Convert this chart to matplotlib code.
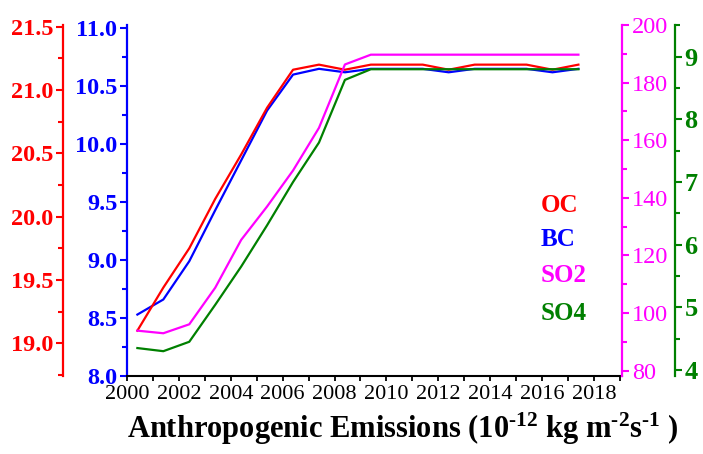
import matplotlib
matplotlib.use("Agg")
import matplotlib.pyplot as plt
from matplotlib.ticker import MultipleLocator, FormatStrFormatter

plt.rcParams['font.family'] = ['Liberation Serif', 'DejaVu Serif']
plt.rcParams['mathtext.fontset'] = 'custom'
plt.rcParams['mathtext.rm'] = 'Liberation Serif:bold'
plt.rcParams['mathtext.bf'] = 'Liberation Serif:bold'
plt.rcParams['mathtext.it'] = 'Liberation Serif:bold'

# ---- data ----
years = [2000.4, 2001.4, 2002.4, 2003.4, 2004.4, 2005.4, 2006.4, 2007.4, 2008.4,
         2009.4, 2010.4, 2011.4, 2012.4, 2013.4, 2014.4, 2015.4, 2016.4, 2017.4]
oc = [19.10, 19.44, 19.75, 20.14, 20.49, 20.86, 21.16, 21.20, 21.16,
      21.20, 21.20, 21.20, 21.16, 21.20, 21.20, 21.20, 21.16, 21.20]
bc = [8.53, 8.66, 8.99, 9.43, 9.86, 10.29, 10.60, 10.65, 10.62,
      10.65, 10.65, 10.65, 10.62, 10.65, 10.65, 10.65, 10.62, 10.65]
so2 = [93.9, 93.0, 96.1, 108.8, 125.4, 137.0, 149.5, 164.3, 186.3,
       189.7, 189.7, 189.7, 189.7, 189.7, 189.7, 189.7, 189.7, 189.7]
so4 = [4.35, 4.30, 4.45, 5.04, 5.65, 6.31, 7.00, 7.63, 8.63,
       8.80, 8.80, 8.80, 8.80, 8.80, 8.80, 8.80, 8.80, 8.80]
xticks = [2000, 2002, 2004, 2006, 2008, 2010, 2012, 2014, 2016, 2018]
legend_names = ["OC", "BC", "SO2", "SO4"]

RED = '#ff0000'
BLUE = '#0000ff'
MAG = '#ff00ff'
GREEN = '#008000'

fig = plt.figure(figsize=(7.03, 4.54), dpi=100)
W, H = 703, 454
L, R, T, B = 127, 622, 25, 376
ax = fig.add_axes([L / W, 1 - B / H, (R - L) / W, (B - T) / H])

ax_red = ax.twinx()
ax_grn = ax.twinx()
ax_mag = ax.twinx()

for a in (ax, ax_red, ax_grn, ax_mag):
    for s in a.spines.values():
        s.set_visible(False)
    a.patch.set_visible(False)

lw = 1.6
ax.plot(years, bc, color=BLUE, lw=lw)
ax_red.plot(years, oc, color=RED, lw=lw)
ax_grn.plot(years, so4, color=GREEN, lw=lw)
ax_mag.plot(years, so2, color=MAG, lw=lw)

# x axis
ax.set_xlim(2000, 2019.08)
ax.spines['bottom'].set_visible(True)
ax.spines['bottom'].set_color('black')
ax.spines['bottom'].set_linewidth(1.5)
ax.set_xticks(xticks)
ax.xaxis.set_minor_locator(MultipleLocator(1))
ax.tick_params(axis='x', which='both', direction='out', length=3.8, width=1.3,
               labelsize=16, pad=3, colors='black')


def style_y(a, side, color, lo, hi, major, minor, fmt, size, bold, offset=None):
    a.set_ylim(lo, hi)
    if side == 'left':
        a.yaxis.set_ticks_position('left')
    else:
        a.yaxis.set_ticks_position('right')
    sp = a.spines[side]
    sp.set_visible(True)
    sp.set_color(color)
    sp.set_linewidth(1.6)
    if offset is not None:
        sp.set_position(('outward', offset))
    a.yaxis.set_major_locator(MultipleLocator(major))
    a.yaxis.set_minor_locator(MultipleLocator(minor))
    if fmt:
        a.yaxis.set_major_formatter(FormatStrFormatter(fmt))
    a.tick_params(axis='y', which='both', direction='out', colors=color, width=1.5,
                  labelsize=size, pad=2)
    a.tick_params(axis='y', which='major', length=5)
    a.tick_params(axis='y', which='minor', length=3.5)
    if bold:
        for lab in a.get_yticklabels():
            lab.set_fontweight('bold')


style_y(ax, 'left', BLUE, 8.0, 11.028, 0.5, 0.25, '%.1f', 17.5, True)
style_y(ax_red, 'left', RED, 18.742, 21.513, 0.5, 0.25, '%.1f', 17.5, True, offset=46)
style_y(ax_mag, 'right', MAG, 78.16, 200.0, 20, 10, None, 17.5, False)
style_y(ax_grn, 'right', GREEN, 3.904, 9.506, 1, 0.5, None, 19, True, offset=38)

# legend-like labels
leg_colors = [RED, BLUE, MAG, GREEN]
leg_y = [205, 240, 276, 313]
for name, c, yy in zip(legend_names, leg_colors, leg_y):
    fig.text(541 / W, 1 - yy / H, name, color=c, fontsize=18, fontweight='bold',
             ha='left', va='center')

fig.text(403 / W, 1 - 429 / H,
         r"Anthropogenic Emissions (10$^{\text{-12}}$ kg m$^{\text{-2}}$s$^{\text{-1}}$ )",
         fontsize=22, fontweight='bold', ha='center', va='center', color='black')

fig.savefig("out.png", dpi=100)
